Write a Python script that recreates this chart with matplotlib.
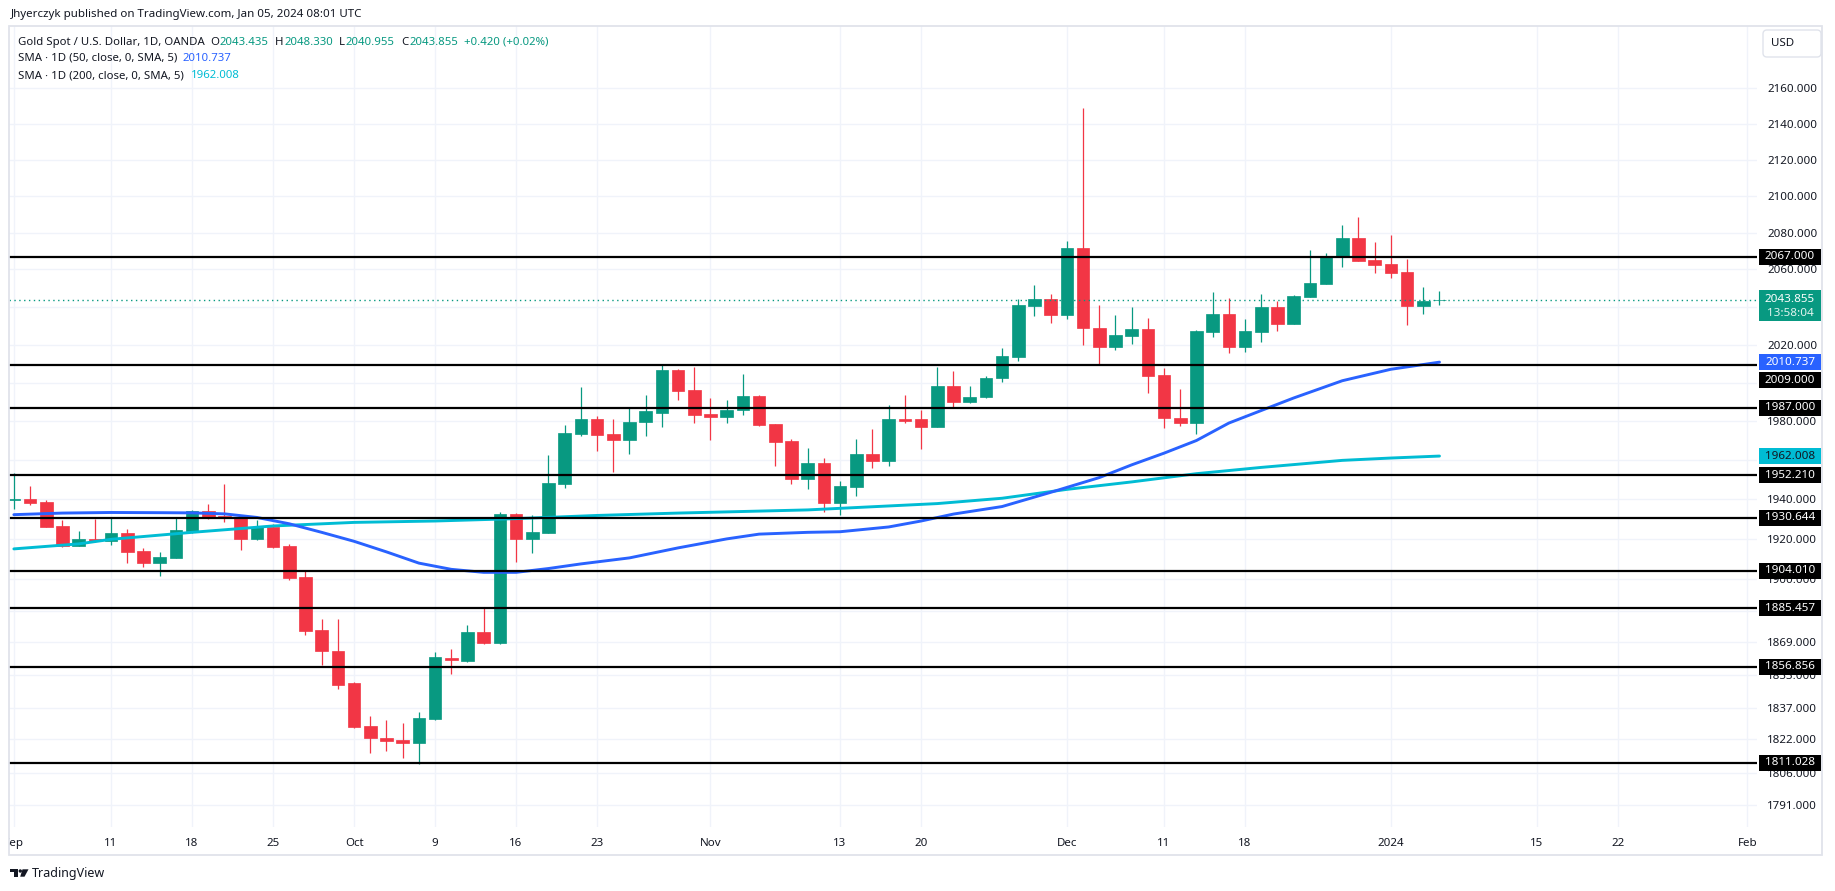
import numpy as np
import pandas as pd
import matplotlib
matplotlib.use("Agg")
import matplotlib.pyplot as plt
from matplotlib.patches import Rectangle, FancyBboxPatch, Polygon, Circle
from matplotlib.transforms import blended_transform_factory, IdentityTransform, Bbox, TransformedBbox
from matplotlib.ticker import NullLocator

plt.rcParams['font.family'] = ['Noto Sans', 'DejaVu Sans']

# ---- data: daily OANDA XAUUSD candles, first session 2023-09-01 ----
first_session = "2023-09-01"
holidays = ["2023-12-25", "2024-01-01"]

opens = np.array([
    1939.5, 1940.0, 1938.5, 1926.3, 1916.5, 1919.8, 1919.0, 1922.8, 1913.8, 1908.0,
    1910.5, 1923.8, 1934.0, 1931.4, 1931.1, 1919.8, 1926.0, 1916.3, 1900.8, 1875.0,
    1864.8, 1848.9, 1828.2, 1822.9, 1821.5, 1820.2, 1831.7, 1861.4, 1859.9, 1874.0,
    1868.4, 1932.4, 1919.8, 1923.0, 1947.7, 1973.6, 1980.9, 1973.1, 1970.5, 1979.3,
    1984.4, 2006.4, 1996.4, 1983.9, 1981.9, 1985.5, 1992.8, 1978.3, 1969.5, 1950.1,
    1958.2, 1937.9, 1946.0, 1963.3, 1959.3, 1981.3, 1980.9, 1977.2, 1998.3, 1989.7,
    1992.3, 2002.2, 2013.7, 2040.5, 2044.3, 2035.9, 2071.7, 2028.8, 2018.9, 2024.6,
    2028.3, 2004.1, 1981.7, 1978.8, 2026.9, 2036.3, 2018.9, 2026.9, 2040.0, 2031.1,
    2045.4, 2052.3, 2066.8, 2077.1, 2065.2, 2063.0, 2058.7, 2040.5, 2043.435])
highs = np.array([
    1953.1, 1946.6, 1939.5, 1929.4, 1923.8, 1929.9, 1930.7, 1924.8, 1915.6, 1913.3,
    1930.7, 1934.5, 1937.4, 1947.6, 1931.9, 1929.7, 1927.4, 1917.3, 1904.3, 1880.0,
    1880.0, 1849.4, 1833.4, 1831.1, 1829.8, 1834.9, 1864.0, 1865.6, 1877.5, 1885.5,
    1933.6, 1932.8, 1931.8, 1962.8, 1977.8, 1997.5, 1982.9, 1980.9, 1987.5, 1993.8,
    2009.5, 2006.9, 2008.0, 1992.2, 1991.2, 2004.3, 1993.3, 1978.5, 1971.0, 1965.9,
    1960.8, 1949.5, 1971.0, 1975.7, 1988.1, 1993.8, 1985.5, 2008.0, 2006.2, 1998.3,
    2003.6, 2018.4, 2044.1, 2051.8, 2047.1, 2075.5, 2149.0, 2041.1, 2035.7, 2040.0,
    2034.1, 2007.7, 1996.8, 2027.8, 2048.0, 2044.8, 2033.6, 2047.0, 2043.2, 2046.5,
    2070.6, 2069.0, 2084.2, 2088.5, 2074.9, 2078.7, 2065.7, 2050.7, 2048.330])
lows = np.array([
    1935.3, 1936.9, 1925.8, 1916.0, 1916.3, 1918.2, 1916.8, 1908.0, 1906.0, 1901.5,
    1910.3, 1923.2, 1930.1, 1928.6, 1914.3, 1919.6, 1915.5, 1899.3, 1872.6, 1858.0,
    1846.2, 1827.4, 1815.5, 1816.7, 1813.1, 1810.4, 1831.5, 1853.5, 1859.1, 1868.2,
    1868.0, 1908.5, 1912.9, 1922.9, 1945.7, 1972.1, 1964.4, 1953.8, 1963.3, 1972.1,
    1977.2, 1991.2, 1978.8, 1970.0, 1978.8, 1983.4, 1977.6, 1956.7, 1947.5, 1945.0,
    1933.3, 1931.8, 1941.5, 1955.7, 1956.7, 1978.8, 1965.4, 1977.0, 1987.1, 1989.5,
    1991.8, 2000.4, 2011.4, 2035.2, 2031.6, 2033.6, 2019.8, 2009.8, 2017.1, 2020.3,
    1994.7, 1976.2, 1977.3, 1973.1, 2024.0, 2015.6, 2016.1, 2021.4, 2027.4, 2030.8,
    2045.2, 2052.0, 2061.4, 2064.5, 2058.2, 2055.5, 2030.4, 2036.3, 2040.955])
closes = np.array([
    1940.0, 1938.1, 1926.0, 1916.3, 1919.8, 1918.8, 1922.8, 1913.5, 1908.0, 1910.8,
    1924.3, 1934.0, 1931.1, 1930.6, 1919.8, 1926.0, 1916.0, 1900.5, 1874.5, 1864.5,
    1848.3, 1827.9, 1822.6, 1821.2, 1820.2, 1832.2, 1861.5, 1860.1, 1874.0, 1868.4,
    1932.4, 1919.8, 1923.3, 1948.0, 1974.1, 1980.9, 1972.6, 1970.5, 1979.8, 1985.0,
    2006.4, 1995.9, 1983.4, 1981.9, 1986.0, 1992.8, 1977.8, 1969.0, 1950.1, 1958.2,
    1937.9, 1946.5, 1963.3, 1959.3, 1981.3, 1980.3, 1977.2, 1998.5, 1989.7, 1992.6,
    2002.5, 2014.1, 2041.1, 2044.3, 2035.9, 2071.7, 2028.5, 2018.9, 2025.1, 2028.3,
    2003.7, 1981.4, 1978.8, 2027.2, 2036.3, 2018.9, 2027.2, 2040.0, 2031.1, 2045.9,
    2052.8, 2067.4, 2077.1, 2064.7, 2062.5, 2058.2, 2040.5, 2043.2, 2043.855])

sma50_dates = ["2023-09-01", "2023-09-06", "2023-09-11", "2023-09-14", "2023-09-18", "2023-09-20",
               "2023-09-22", "2023-09-26", "2023-09-28", "2023-10-02", "2023-10-04", "2023-10-06",
               "2023-10-10", "2023-10-12", "2023-10-16", "2023-10-18", "2023-10-20", "2023-10-25",
               "2023-10-30", "2023-11-02", "2023-11-06", "2023-11-09", "2023-11-13", "2023-11-16",
               "2023-11-20", "2023-11-22", "2023-11-27", "2023-11-30", "2023-12-05", "2023-12-07",
               "2023-12-11", "2023-12-13", "2023-12-15", "2023-12-19", "2023-12-21", "2023-12-27",
               "2024-01-02", "2024-01-05"]
sma50 = [1932.2, 1933.0, 1933.3, 1933.2, 1933.1, 1932.6, 1930.8, 1927.6, 1923.3, 1918.8,
         1913.5, 1907.9, 1904.8, 1903.3, 1903.3, 1905.2, 1907.5, 1910.5, 1915.5, 1920.0,
         1922.4, 1923.3, 1923.6, 1926.0, 1929.0, 1932.5, 1936.3, 1943.5, 1951.0, 1957.5,
         1963.5, 1970.0, 1979.0, 1985.5, 1992.0, 2001.0, 2007.0, 2010.737]

sma200_dates = ["2023-09-01", "2023-09-07", "2023-09-11", "2023-09-18", "2023-09-25", "2023-10-02",
                "2023-10-09", "2023-10-16", "2023-10-23", "2023-10-30", "2023-11-06", "2023-11-09",
                "2023-11-15", "2023-11-21", "2023-11-27", "2023-12-01", "2023-12-07", "2023-12-13",
                "2023-12-19", "2023-12-27", "2024-01-02", "2024-01-05"]
sma200 = [1915.0, 1917.5, 1919.8, 1923.3, 1926.5, 1928.3, 1929.0, 1930.2, 1931.8, 1933.0,
          1934.0, 1934.6, 1936.2, 1937.8, 1940.5, 1945.0, 1948.8, 1953.0, 1956.2, 1959.8,
          1961.0, 1962.008]

levels = [2067.000, 2009.000, 1987.000, 1952.210, 1930.644, 1904.010, 1885.457, 1856.856, 1811.028]
last_price = 2043.855
countdown = "13:58:04"

y_ticks = [2160, 2140, 2120, 2100, 2080, 2060, 2040, 2020, 2000, 1980, 1960, 1940, 1920,
           1900, 1884, 1869, 1853, 1837, 1822, 1806, 1791]
y_hidden = [2040, 2000, 1960, 1884]   # covered by price tags in the original

tick_dates = ["2023-09-01", "2023-09-11", "2023-09-18", "2023-09-25", "2023-10-02", "2023-10-09",
              "2023-10-16", "2023-10-23", "2023-11-01", "2023-11-13", "2023-11-20", "2023-12-01",
              "2023-12-11", "2023-12-18", "2024-01-02", "2024-01-15", "2024-01-22", "2024-02-01"]
tick_labels = ["Sep", "11", "18", "25", "Oct", "9", "16", "23", "Nov", "13", "20", "Dec",
               "11", "18", "2024", "15", "22", "Feb"]

# ---- session calendar (bar index axis, like TradingView) ----
sessions = pd.bdate_range(first_session, "2024-02-09")
sessions = sessions.drop(pd.to_datetime(holidays))


def bar_of(dates):
    return sessions.get_indexer(pd.to_datetime(dates))


x = np.arange(len(opens))

W, H = 1835, 891
DARK = "#131722"
UP, DOWN = "#089981", "#f23645"
BLUE, CYAN = "#2962ff", "#00bcd4"

fig = plt.figure(figsize=(W / 100, H / 100), dpi=100)
fig.patch.set_facecolor("white")
ax = fig.add_axes([9 / W, 1 - 827 / H, (1757 - 9) / W, (827 - 26) / H])
ax.set_yscale("log")
ymin, ymax = 1780.8, 2195.3
ax.set_ylim(ymin, ymax)
ax.set_xlim(-0.3, 107.6)
ax.set_autoscale_on(False)
for s in ax.spines.values():
    s.set_visible(False)

ax.grid(True, color="#f0f3fa", lw=1)
ax.set_axisbelow(True)

# candles
up = closes >= opens
cols = np.where(up, UP, DOWN)
ax.vlines(x, lows, highs, colors=cols, lw=0.9, zorder=2)
ax.bar(x, np.abs(closes - opens), bottom=np.minimum(opens, closes), width=0.78,
       color=cols, edgecolor=cols, linewidth=0.5, zorder=2.1)

# moving averages
ax.plot(bar_of(sma200_dates), sma200, color=CYAN, lw=2.1, zorder=3,
        solid_capstyle="round", solid_joinstyle="round")
ax.plot(bar_of(sma50_dates), sma50, color=BLUE, lw=2.1, zorder=3.1,
        solid_capstyle="round", solid_joinstyle="round")

# horizontal levels and last price
for lv in levels:
    ax.axhline(lv, color="black", lw=1.6, zorder=4)
ax.axhline(last_price, color=UP, lw=1, ls=(0, (1, 2.5)), zorder=3.5)

# axes ticks
ax.yaxis.tick_right()
ax.set_yticks(y_ticks, labels=["" if t in y_hidden else f"{t:.3f}" for t in y_ticks])
ax.yaxis.set_minor_locator(NullLocator())
ax.tick_params(axis="y", length=0, pad=7.5, labelsize=8.3, labelcolor=DARK)
ax.set_xticks(bar_of(tick_dates), labels=tick_labels)
ax.xaxis.set_minor_locator(NullLocator())
ax.tick_params(axis="x", length=0, pad=8, labelsize=8.3, labelcolor=DARK)
for lab in ax.get_xticklabels():
    if lab.get_text() == "2024":
        lab.set_fontweight("bold")
clip = TransformedBbox(Bbox([[9 / W, 0], [1, 1]]), fig.transFigure)
first_lab = ax.get_xticklabels()[0]
first_lab.set_clip_on(True)
first_lab.set_clip_box(clip)

# price tags on the scale
k = (827 - 26) / np.log(ymax / ymin)     # pixels per log unit
tr = blended_transform_factory(ax.transAxes, ax.transData)
x0, x1 = (1759 - 9) / 1748, (1821 - 9) / 1748


def tag(price, text, face, fg="white", bold=True, shift=0.0, top=8.0, bottom=8.0):
    p = price * np.exp(-shift / k)
    lo, hi = p * np.exp(-bottom / k), p * np.exp(top / k)
    ax.add_patch(Rectangle((x0, lo), x1 - x0, hi - lo, transform=tr, facecolor=face,
                           edgecolor="none", clip_on=False, zorder=6))
    ax.text((x0 + x1) / 2, p, text, transform=tr, ha="center", va="center", color=fg,
            fontsize=8.4, fontweight="bold" if bold else "normal", clip_on=False, zorder=7)
    return p


for lv in levels:
    if lv == 2009.000:
        tag(lv, f"{lv:.3f}", "black", shift=15)
    else:
        tag(lv, f"{lv:.3f}", "black")
tag(sma50[-1], f"{sma50[-1]:.3f}", BLUE)
tag(sma200[-1], f"{sma200[-1]:.3f}", CYAN, fg=DARK, bold=False)
p = tag(last_price, f"{last_price:.3f}", UP, top=9.5, bottom=21.5)
ax.text((x0 + x1) / 2, p * np.exp(-14 / k), countdown, transform=tr, ha="center",
        va="center", color="#dff3ee", fontsize=8.4, clip_on=False, zorder=7)

# frame and USD button
fig.add_artist(Rectangle((9, H - 855), 1822 - 9, 855 - 26, transform=IdentityTransform(),
                         fill=False, edgecolor="#e0e3eb", lw=1.3))
fig.add_artist(FancyBboxPatch((1763, H - 57), 58, 27, boxstyle="round,pad=0,rounding_size=4",
                              transform=IdentityTransform(), facecolor="white",
                              edgecolor="#e0e3eb", lw=1))
fig.text(1771 / W, 1 - 44 / H, "USD", fontsize=8.3, color=DARK, va="center", ha="left")

# header and legend
fig.text(10.7 / W, 1 - 14.5 / H, "Jhyerczyk published on TradingView.com, Jan 05, 2024 08:01 UTC",
         fontsize=8.3, color=DARK, va="center")

renderer = fig.canvas.get_renderer()


def run_text(xp, yp, parts, size=8.2):
    for s, col, gap in parts:
        xp += gap
        t = fig.text(xp / W, 1 - yp / H, s, color=col, fontsize=size, va="center", ha="left")
        xp = t.get_window_extent(renderer).x1


run_text(18, 42.5, [("Gold Spot / U.S. Dollar, 1D, OANDA", DARK, 0),
                    ("O", DARK, 5), (f"{opens[-1]:.3f}", UP, 1),
                    ("H", DARK, 6), (f"{highs[-1]:.3f}", UP, 1),
                    ("L", DARK, 6), (f"{lows[-1]:.3f}", UP, 1),
                    ("C", DARK, 6), (f"{closes[-1]:.3f}", UP, 1),
                    ("+0.420 (+0.02%)", UP, 6)])
run_text(18, 58.5, [("SMA · 1D (50, close, 0, SMA, 5)", DARK, 0), (f"{sma50[-1]:.3f}", BLUE, 5)])
run_text(18, 75.5, [("SMA · 1D (200, close, 0, SMA, 5)", DARK, 0), (f"{sma200[-1]:.3f}", CYAN, 7)])

# TradingView logo
logo = dict(transform=IdentityTransform(), facecolor=DARK, edgecolor="none")
fig.add_artist(Rectangle((10, H - 872.3), 7.5, 3, **logo))
fig.add_artist(Rectangle((14, H - 876.7), 3.5, 7.4, **logo))
fig.add_artist(Circle((20.3, H - 871), 1.7, **logo))
fig.add_artist(Polygon([(22.5, H - 869.3), (28.5, H - 869.3), (24.5, H - 876.7), (20.2, H - 876.7)], **logo))
fig.text(32 / W, 1 - 873 / H, "TradingView", fontsize=9, color=DARK, va="center")

fig.savefig("out.png", dpi=100, facecolor="white")
